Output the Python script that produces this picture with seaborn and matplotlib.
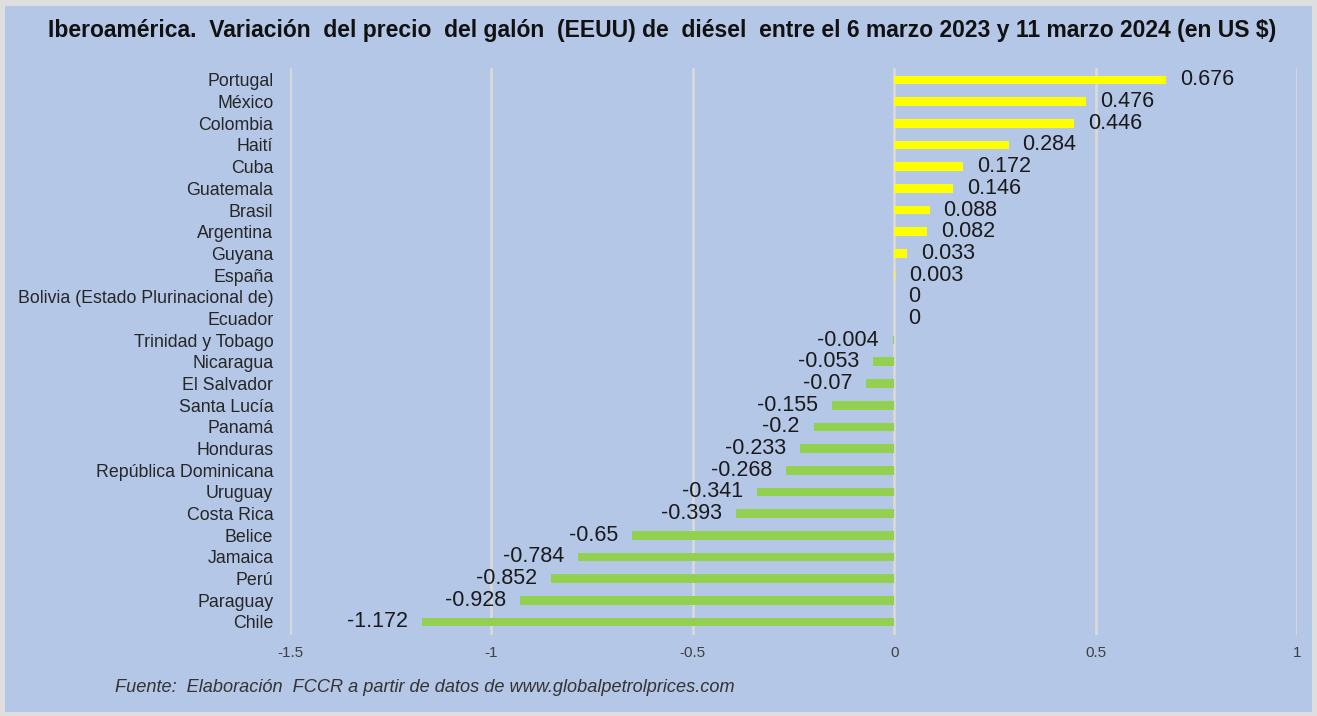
import numpy as np
import pandas as pd
import matplotlib
matplotlib.use("Agg")
import matplotlib.pyplot as plt
import seaborn as sns
from matplotlib.patches import Rectangle

paises = [
    "Portugal", "México", "Colombia", "Haití", "Cuba", "Guatemala", "Brasil",
    "Argentina", "Guyana", "España", "Bolivia (Estado Plurinacional de)",
    "Ecuador", "Trinidad y Tobago", "Nicaragua", "El Salvador", "Santa Lucía",
    "Panamá", "Honduras", "República Dominicana", "Uruguay", "Costa Rica",
    "Belice", "Jamaica", "Perú", "Paraguay", "Chile",
]
variacion = [
    0.676, 0.476, 0.446, 0.284, 0.172, 0.146, 0.088, 0.082, 0.033, 0.003,
    0, 0, -0.004, -0.053, -0.07, -0.155, -0.2, -0.233, -0.268, -0.341,
    -0.393, -0.65, -0.784, -0.852, -0.928, -1.172,
]
etiquetas = [
    "0.676", "0.476", "0.446", "0.284", "0.172", "0.146", "0.088", "0.082",
    "0.033", "0.003", "0", "0", "-0.004", "-0.053", "-0.07", "-0.155", "-0.2",
    "-0.233", "-0.268", "-0.341", "-0.393", "-0.65", "-0.784", "-0.852",
    "-0.928", "-1.172",
]
ticks_x = [-1.5, -1, -0.5, 0, 0.5, 1]
tick_labels = ["-1.5", "-1", "-0.5", "0", "0.5", "1"]

df = pd.DataFrame({"pais": paises, "valor": variacion})
df["signo"] = np.where(df["valor"] >= 0, "pos", "neg")

fondo = "#B4C7E7"
sns.set_theme(style="white")
plt.rcParams["font.family"] = ["Liberation Sans", "DejaVu Sans"]

fig = plt.figure(figsize=(13.17, 7.16), dpi=100)
fig.patch.set_facecolor("#DEDEDE")
fig.patches.append(Rectangle((5 / 1317, 4 / 716), 1 - 10 / 1317, 1 - 10 / 716,
                             transform=fig.transFigure, facecolor=fondo,
                             edgecolor="none", zorder=-10))

ax = fig.add_axes([290 / 1317, 1 - 635 / 716, (1297 - 290) / 1317, (635 - 68) / 716])
ax.set_facecolor("none")

sns.barplot(data=df, x="valor", y="pais", hue="signo",
            palette={"pos": "#FFFF00", "neg": "#92D050"},
            dodge=False, orient="h", width=0.4, legend=False, ax=ax,
            saturation=1, linewidth=0, zorder=3)

ax.set_xlim(-1.5, 1)
ax.set_ylim(25.6, -0.55)
ax.set_xticks(ticks_x)
ax.set_xticklabels(tick_labels, fontsize=11, color="#404040")
for x in ticks_x:
    ax.axvline(x, color="#D9D9D9", lw=2, zorder=1)
ax.tick_params(axis="y", labelsize=12.8, labelcolor="#262626", pad=12, length=0)
ax.tick_params(axis="x", pad=8, length=0)
ax.set_xlabel("")
ax.set_ylabel("")
for s in ax.spines.values():
    s.set_visible(False)

for i, (v, lab) in enumerate(zip(variacion, etiquetas)):
    if v >= 0:
        ax.annotate(lab, (v, i), xytext=(10, 0), textcoords="offset points",
                    ha="left", va="center", fontsize=15.5, color="#1a1a1a")
    else:
        ax.annotate(lab, (v, i), xytext=(-10, 0), textcoords="offset points",
                    ha="right", va="center", fontsize=15.5, color="#1a1a1a")

fig.text(0.503, 1 - 30 / 716,
         "Iberoamérica.  Variación  del precio  del galón  (EEUU) de  diésel  entre el 6 marzo 2023 y 11 marzo 2024 (en US $)",
         ha="center", va="center", fontsize=16.5, fontweight="bold", color="#111111")
fig.text(115 / 1317, 1 - 687 / 716,
         "Fuente:  Elaboración  FCCR a partir de datos de www.globalpetrolprices.com",
         ha="left", va="center", fontsize=13.1, style="italic", color="#333333")

fig.savefig("out.png", dpi=100, facecolor=fig.get_facecolor())
